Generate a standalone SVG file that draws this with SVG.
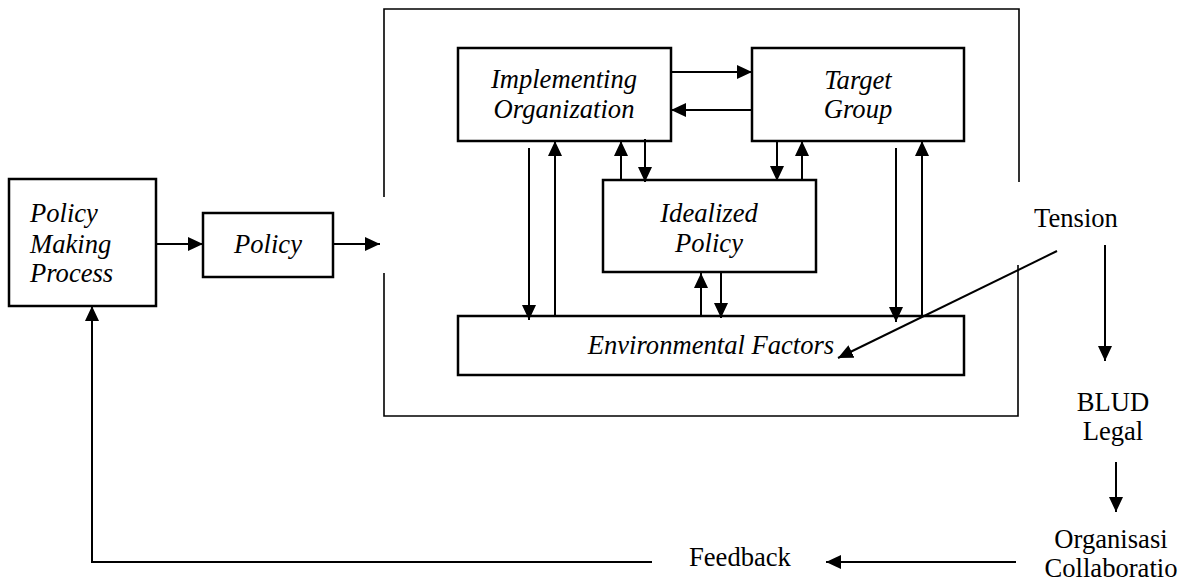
<svg xmlns="http://www.w3.org/2000/svg" width="1178" height="583" viewBox="0 0 1178 583">
<style>
  .box{fill:#fff;stroke:#000;stroke-width:2.5}
  .ln{fill:none;stroke:#000;stroke-width:2}
  .frame{fill:none;stroke:#000;stroke-width:1.6}
  .it{font-family:"Liberation Serif","Times New Roman",serif;font-style:italic;font-size:26.6px;fill:#000}
  .up{font-family:"Liberation Serif","Times New Roman",serif;font-size:26.6px;fill:#000}
</style>
<defs>
  <marker id="ah" markerUnits="userSpaceOnUse" markerWidth="15" markerHeight="14" refX="15" refY="7" orient="auto">
    <path d="M0,0 L15,7 L0,14 z" fill="#000"/>
  </marker>
</defs>
<rect width="1178" height="583" fill="#fff"/>
<g id="frame">
  <path class="frame" d="M384,197 V9 H1019 V182"/>
  <path class="frame" d="M384,273 V416 H1018 V265"/>
</g>
<g id="policy-making-process">
  <rect class="box" x="9" y="179" width="147" height="127"/>
  <text class="it" x="30" y="222">Policy</text>
  <text class="it" x="30" y="253">Making</text>
  <text class="it" x="30" y="282">Process</text>
</g>
<g id="policy">
  <rect class="box" x="203" y="213" width="130" height="64"/>
  <text class="it" x="268" y="253" text-anchor="middle">Policy</text>
</g>
<g id="implementing-organization">
  <rect class="box" x="458" y="48" width="213" height="93"/>
  <text class="it" x="564" y="88" text-anchor="middle">Implementing</text>
  <text class="it" x="564" y="118" text-anchor="middle">Organization</text>
</g>
<g id="target-group">
  <rect class="box" x="752" y="48" width="212" height="93"/>
  <text class="it" x="858" y="89" text-anchor="middle">Target</text>
  <text class="it" x="858" y="118" text-anchor="middle">Group</text>
</g>
<g id="idealized-policy">
  <rect class="box" x="603" y="180" width="213" height="92"/>
  <text class="it" x="709" y="222" text-anchor="middle">Idealized</text>
  <text class="it" x="709" y="252" text-anchor="middle">Policy</text>
</g>
<g id="environmental-factors">
  <rect class="box" x="458" y="316" width="506" height="59"/>
  <text class="it" x="711" y="354" text-anchor="middle">Environmental Factors</text>
</g>
<g id="tension">
  <text class="up" x="1076" y="227" text-anchor="middle">Tension</text>
</g>
<g id="blud-legal">
  <text class="up" x="1113" y="411" text-anchor="middle">BLUD</text>
  <text class="up" x="1113" y="440" text-anchor="middle">Legal</text>
</g>
<g id="organisasi-collaboratio">
  <text class="up" x="1111" y="548" text-anchor="middle">Organisasi</text>
  <text class="up" x="1111" y="577" text-anchor="middle">Collaboratio</text>
</g>
<g id="feedback">
  <text class="up" x="689" y="566">Feedback</text>
</g>
<g id="connectors">
  <line class="ln" x1="156" y1="244" x2="203" y2="244" marker-end="url(#ah)"/>
  <line class="ln" x1="333" y1="244" x2="380" y2="244" marker-end="url(#ah)"/>
  <line class="ln" x1="671" y1="72" x2="752" y2="72" marker-end="url(#ah)"/>
  <line class="ln" x1="752" y1="110" x2="671" y2="110" marker-end="url(#ah)"/>
  <line class="ln" x1="529" y1="148" x2="529" y2="320" marker-end="url(#ah)"/>
  <line class="ln" x1="555" y1="316" x2="555" y2="141" marker-end="url(#ah)"/>
  <line class="ln" x1="621" y1="180" x2="621" y2="141" marker-end="url(#ah)"/>
  <line class="ln" x1="645" y1="139" x2="645" y2="182" marker-end="url(#ah)"/>
  <line class="ln" x1="777" y1="141" x2="777" y2="181" marker-end="url(#ah)"/>
  <line class="ln" x1="802" y1="180" x2="802" y2="141" marker-end="url(#ah)"/>
  <line class="ln" x1="896" y1="148" x2="896" y2="322" marker-end="url(#ah)"/>
  <line class="ln" x1="922" y1="316" x2="922" y2="141" marker-end="url(#ah)"/>
  <line class="ln" x1="701" y1="316" x2="701" y2="273" marker-end="url(#ah)"/>
  <line class="ln" x1="721" y1="273" x2="721" y2="318" marker-end="url(#ah)"/>
  <line class="ln" x1="1057" y1="251" x2="838" y2="358" marker-end="url(#ah)"/>
  <line class="ln" x1="1105" y1="245" x2="1105" y2="361" marker-end="url(#ah)"/>
  <line class="ln" x1="1116" y1="462" x2="1116" y2="512" marker-end="url(#ah)"/>
  <line class="ln" x1="1016" y1="562" x2="826" y2="562" marker-end="url(#ah)"/>
  <polyline class="ln" points="652,562 92,562 92,306" marker-end="url(#ah)"/>
</g>
</svg>
